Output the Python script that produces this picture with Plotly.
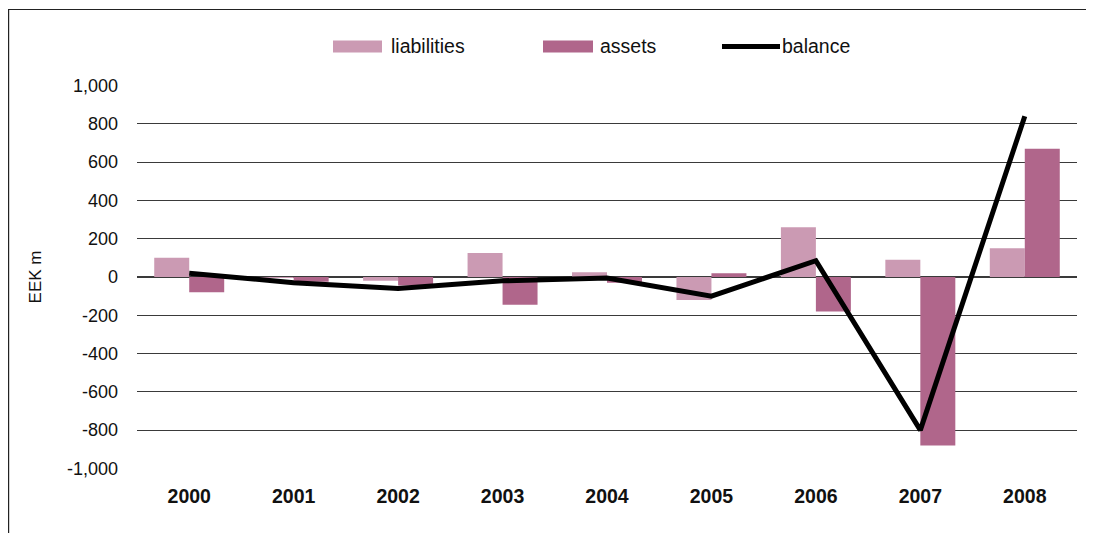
import plotly.graph_objects as go

years = ["2000", "2001", "2002", "2003", "2004", "2005", "2006", "2007", "2008"]
liabilities = [100, -5, -20, 125, 25, -120, 260, 90, 150]
assets = [-80, -25, -45, -145, -30, 20, -180, -880, 670]
balance = [20, -30, -60, -20, -5, -100, 85, -800, 840]
y_ticks = [-1000, -800, -600, -400, -200, 0, 200, 400, 600, 800, 1000]
y_tick_labels = ["-1,000", "-800", "-600", "-400", "-200", "0", "200", "400", "600", "800", "1,000"]

C_LIAB = "#CB9AB3"
C_ASSET = "#B0668B"
FONT = "Liberation Sans, Arial, sans-serif"

OFF = 8  # page body margin
W, H = 1094 - OFF, 533 - OFF
L, T = 137 - OFF, 85 - OFF
R = W - (1077 - OFF)
B = H - (469 - OFF)
PW, PH = W - L - R, H - T - B

def px(x):
    return (x - OFF - L) / PW

def py(y):
    return (H - B - (y - OFF)) / PH

fig = go.Figure()
fig.add_trace(go.Bar(x=years, y=liabilities, name="liabilities", marker_color=C_LIAB, marker_line_width=0))
fig.add_trace(go.Bar(x=years, y=assets, name="assets", marker_color=C_ASSET, marker_line_width=0))
fig.add_trace(go.Scatter(x=years, y=balance, name="balance", mode="lines",
                         line=dict(color="black", width=5)))

shapes = []
# frame (left and top)
shapes.append(dict(type="line", xref="paper", yref="paper", x0=px(8.6), x1=px(8.6), y0=py(9), y1=py(540),
                   line=dict(color="#222", width=1.2)))
shapes.append(dict(type="line", xref="paper", yref="paper", x0=px(8.6), x1=px(1100), y0=py(9.5), y1=py(9.5),
                   line=dict(color="#222", width=1.2)))
# manual legend swatches
shapes.append(dict(type="rect", xref="paper", yref="paper", x0=px(333), x1=px(382), y0=py(52.5), y1=py(40.5),
                   fillcolor=C_LIAB, line_width=0))
shapes.append(dict(type="rect", xref="paper", yref="paper", x0=px(543), x1=px(593), y0=py(52.5), y1=py(40.5),
                   fillcolor=C_ASSET, line_width=0))
shapes.append(dict(type="line", xref="paper", yref="paper", x0=px(722), x1=px(780), y0=py(46.5), y1=py(46.5),
                   line=dict(color="black", width=5)))

annotations = []
for txt, x0 in [("liabilities", 390), ("assets", 599), ("balance", 781)]:
    annotations.append(dict(text=txt, xref="paper", yref="paper", x=px(x0), y=py(46.5),
                            xanchor="left", yanchor="middle", showarrow=False, xshift=-1,
                            font=dict(family=FONT, size=19.5, color="#111")))

fig.update_layout(
    width=W, height=H,
    margin=dict(l=L, r=R, t=T, b=B),
    plot_bgcolor="white", paper_bgcolor="white",
    barmode="group", bargap=0.33, bargroupgap=0,
    showlegend=False,
    shapes=shapes, annotations=annotations,
    font=dict(family=FONT, size=18, color="#111"),
)
fig.update_xaxes(showgrid=False, showline=False, ticks="", ticklabelstandoff=13,
                 tickfont=dict(family=FONT, size=19.5, color="#111", weight="bold"))
fig.update_yaxes(range=[-1003, 1003], tickvals=y_ticks, ticktext=y_tick_labels,
                 showgrid=True, gridcolor="#3a3a3a", gridwidth=1.3,
                 zeroline=True, zerolinecolor="#3a3a3a", zerolinewidth=1.5,
                 ticks="", ticklabelstandoff=18,
                 title=dict(text="EEK m", font=dict(family=FONT, size=17, color="#111"), standoff=21),
                 tickfont=dict(family=FONT, size=18, color="#111"))

fig.write_html("out.html")
